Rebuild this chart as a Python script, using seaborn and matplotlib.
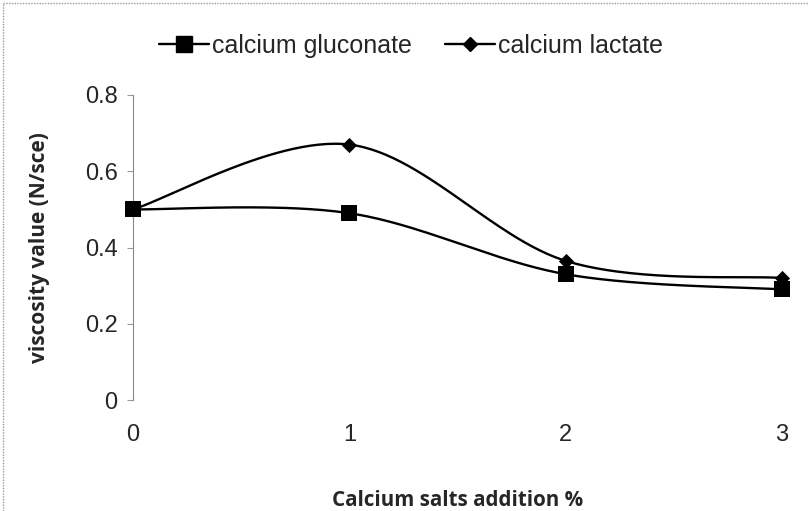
import numpy as np
import pandas as pd
import matplotlib
matplotlib.use("Agg")
import matplotlib.pyplot as plt
from matplotlib.lines import Line2D
import seaborn as sns

# ---- data ----
additions = [0, 1, 2, 3]
gluconate = [0.50, 0.49, 0.33, 0.29]
lactate = [0.50, 0.67, 0.365, 0.32]
series_names = ["calcium gluconate", "calcium lactate"]
y_ticks = [0, 0.2, 0.4, 0.6, 0.8]
y_tick_labels = ["0", "0.2", "0.4", "0.6", "0.8"]
x_ticks = [0, 1, 2, 3]

sns.set_theme(style="white")
plt.rcParams['font.family'] = ['Liberation Sans', 'DejaVu Sans']


def smooth(xs, ys, n=60):
    """Excel-like smoothed line (Catmull-Rom / cubic Bezier)."""
    xs = np.asarray(xs, float)
    ys = np.asarray(ys, float)
    P = np.column_stack([xs, ys])
    out = []
    for i in range(len(P) - 1):
        p0 = P[i - 1] if i > 0 else P[i]
        p1 = P[i]
        p2 = P[i + 1]
        p3 = P[i + 2] if i + 2 < len(P) else P[i + 1]
        c1 = p1 + (p2 - p0) / 6.0
        c2 = p2 - (p3 - p1) / 6.0
        t = np.linspace(0, 1, n)[:, None]
        seg = ((1 - t) ** 3) * p1 + 3 * ((1 - t) ** 2) * t * c1 + 3 * (1 - t) * t ** 2 * c2 + t ** 3 * p2
        out.append(seg if i == 0 else seg[1:])
    out = np.vstack(out)
    return out[:, 0], out[:, 1]


fig = plt.figure(figsize=(8.09, 5.11), dpi=100)
ax = fig.add_axes([0.1644, 0.2172, 0.8022, 0.5969])

markers = {"calcium gluconate": "s", "calcium lactate": "D"}
msizes = {"calcium gluconate": 120, "calcium lactate": 60}
for name, vals in zip(series_names, [gluconate, lactate]):
    sx, sy = smooth(additions, vals)
    curve = pd.DataFrame({"x": sx, "y": sy})
    sns.lineplot(data=curve, x="x", y="y", sort=False, estimator=None,
                 color="black", linewidth=1.7, ax=ax)
    pts = pd.DataFrame({"x": additions, "y": vals})
    sns.scatterplot(data=pts, x="x", y="y", marker=markers[name], s=msizes[name],
                    color="black", edgecolor="black", linewidth=0, ax=ax, zorder=5,
                    clip_on=False)

ax.set_xlim(0, 3)
ax.set_ylim(0, 0.8)
ax.set_yticks(y_ticks)
ax.set_yticklabels(y_tick_labels)
ax.set_xticks(x_ticks)
ax.set_xticklabels([str(v) for v in x_ticks])
ax.tick_params(axis="y", labelsize=17, length=4, color="#999999", width=0.8,
               left=True, pad=7)
ax.tick_params(axis="x", labelsize=17, length=0, pad=17)

for s in ["top", "right", "bottom"]:
    ax.spines[s].set_visible(False)
ax.spines["left"].set_color("#888888")
ax.spines["left"].set_linewidth(0.8)
ax.spines["left"].set_linestyle((0, (1, 1)))

ax.set_xlabel("Calcium salts addition %", fontsize=14.8, fontweight="bold",
              family=["Open Sans", "DejaVu Sans"], labelpad=32)
ax.set_ylabel("viscosity value (N/sce)", fontsize=15, fontweight="bold",
              family=["Open Sans", "DejaVu Sans"], labelpad=25)

handles = [
    Line2D([], [], color="black", lw=1.7, marker="s", markersize=11),
    Line2D([], [], color="black", lw=1.7, marker="D", markersize=7.5),
]
fig.legend(handles, series_names, loc="center", bbox_to_anchor=(0.508, 0.91),
           ncol=2, frameon=False, fontsize=18, handlelength=2.0,
           handletextpad=0.15, columnspacing=1.3)

# faint dotted page border (top & left)
fig.add_artist(Line2D([0.004, 0.999], [0.995, 0.995], transform=fig.transFigure,
                      color="#999999", lw=1, ls=(0, (1, 1))))
fig.add_artist(Line2D([0.004, 0.004], [0.0, 0.995], transform=fig.transFigure,
                      color="#999999", lw=1, ls=(0, (1, 1))))

fig.savefig("out.png", dpi=100)
